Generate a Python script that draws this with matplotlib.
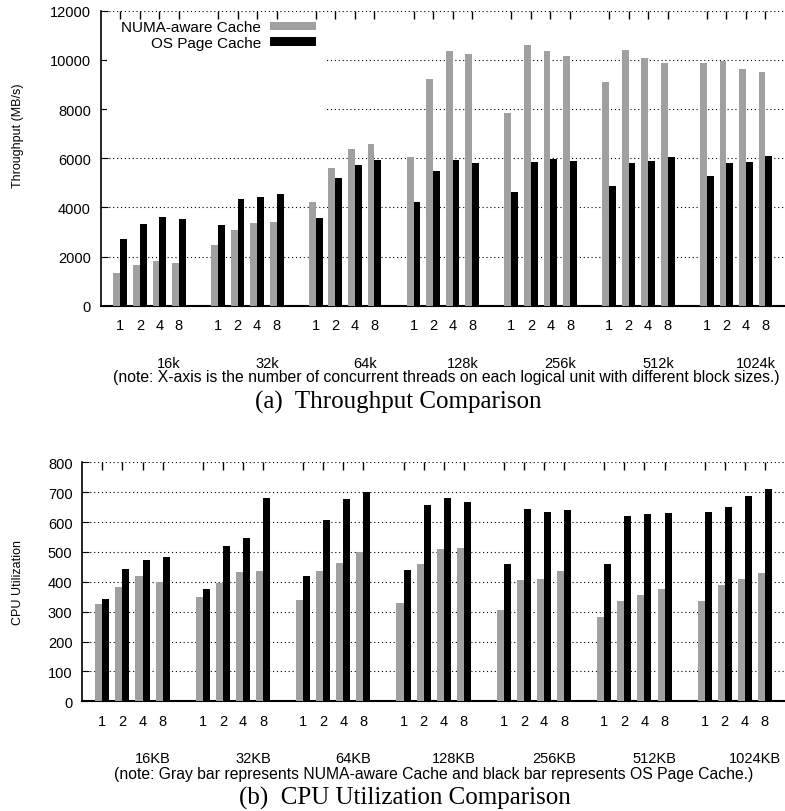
import numpy as np
import matplotlib
matplotlib.use("Agg")
from matplotlib import pyplot as plt
from matplotlib.patches import Rectangle

plt.rcParams['font.family'] = ['Liberation Sans', 'DejaVu Sans']

threads = ['1', '2', '4', '8']
tp_sizes = ['16k', '32k', '64k', '128k', '256k', '512k', '1024k']
cpu_sizes = ['16KB', '32KB', '64KB', '128KB', '256KB', '512KB', '1024KB']

# throughput (MB/s), one row per block size, columns = 1,2,4,8 threads
tp_numa = [[1330, 1670, 1820, 1740],
           [2470, 3080, 3360, 3400],
           [4220, 5600, 6370, 6580],
           [6050, 9220, 10360, 10240],
           [7840, 10600, 10360, 10160],
           [9100, 10400, 10080, 9870],
           [9870, 9950, 9630, 9510]]
tp_os = [[2710, 3320, 3610, 3530],
         [3280, 4340, 4420, 4540],
         [3570, 5190, 5720, 5930],
         [4220, 5480, 5930, 5800],
         [4620, 5850, 5970, 5890],
         [4870, 5800, 5890, 6050],
         [5280, 5800, 5850, 6090]]

# cpu utilization (%)
cpu_numa = [[326, 383, 420, 399],
            [349, 397, 433, 436],
            [339, 436, 463, 500],
            [329, 460, 510, 513],
            [306, 406, 409, 436],
            [282, 336, 356, 376],
            [336, 389, 409, 430]]
cpu_os = [[343, 443, 473, 483],
          [376, 520, 547, 681],
          [420, 607, 677, 701],
          [440, 657, 681, 667],
          [460, 644, 634, 640],
          [460, 620, 627, 630],
          [634, 650, 687, 711]]

GRAY = '#a0a0a0'
BW = 0.35


def draw_panel(ax, numa, os_, sizes, ymax, ystep, ylabel):
    numa = np.array(numa).ravel()
    os_ = np.array(os_).ravel()
    ngrp = len(sizes)
    # 4 bars per group + 1 empty slot
    xs = np.array([g * 5 + j + 1 for g in range(ngrp) for j in range(len(threads))])

    ax.bar(xs - BW / 2, numa, BW, color=GRAY, zorder=3, label='NUMA-aware Cache')
    ax.bar(xs + BW / 2, os_, BW, color='black', zorder=3, label='OS Page Cache')

    ax.set_xlim(0, ngrp * 5)
    ax.set_ylim(0, ymax)
    ax.set_yticks(np.arange(0, ymax + 1, ystep))
    ax.set_xticks(xs)
    ax.set_xticklabels(threads * ngrp)
    ax.tick_params(axis='x', direction='in', length=6, width=1, top=True, pad=9, labelsize=10.5)
    ax.tick_params(axis='y', direction='in', length=5, width=0.8, pad=7, labelsize=10.5)
    ax.yaxis.grid(True, linestyle=(0, (1, 2.5)), color='black', linewidth=0.8, zorder=0)
    ax.set_axisbelow(True)
    for s in ['top', 'right']:
        ax.spines[s].set_visible(False)
    ax.spines['left'].set_linewidth(1.2)
    ax.spines['bottom'].set_linewidth(1.5)

    # block size labels under each group
    for g, name in enumerate(sizes):
        ax.annotate(name, xy=(g * 5 + 3.5, 0), xycoords=('data', 'axes fraction'),
                    xytext=(0, -41), textcoords='offset points',
                    ha='center', va='center', fontsize=10.5)
    ax.set_ylabel(ylabel, fontsize=9)
    return xs


fig = plt.figure(figsize=(7.85, 8.12), dpi=100)

ax1 = fig.add_axes([0.1283, 0.6223, 0.8717, 0.3633])
draw_panel(ax1, tp_numa, tp_os, tp_sizes, 12000, 2000, 'Throughput (MB/s)')
ax1.yaxis.set_label_coords(-0.112, 0.58)
# key background hides the grid behind it
ax1.add_patch(Rectangle((0.009, 0.6), 0.319, 0.37, transform=ax1.transAxes,
                        facecolor='white', edgecolor='none', zorder=1))
leg = ax1.legend(loc='upper right', bbox_to_anchor=(0.315, 0.967), markerfirst=False,
                 frameon=False, handlelength=3.0, handleheight=0.5, handletextpad=0.6,
                 labelspacing=0.1, borderpad=0, borderaxespad=0, fontsize=11)
leg.set_zorder(5)

fig.text(446 / 785, 1 - 377.7 / 812,
         '(note: X-axis is the number of concurrent threads on each logical unit with different block sizes.)',
         ha='center', va='center', fontsize=11.3)
fig.text(398 / 785, 1 - 402 / 812, '(a)  Throughput Comparison', ha='center', va='center',
         fontsize=18, family=['Liberation Serif', 'DejaVu Serif'])

ax2 = fig.add_axes([0.1048, 0.1351, 0.8952, 0.2943])
draw_panel(ax2, cpu_numa, cpu_os, cpu_sizes, 800, 100, 'CPU Utilization')
ax2.yaxis.set_label_coords(-0.083, 0.5)

fig.text(434 / 785, 1 - 775 / 812,
         '(note: Gray bar represents NUMA-aware Cache and black bar represents OS Page Cache.)',
         ha='center', va='center', fontsize=11.3)
fig.text(405 / 785, 1 - 798 / 812, '(b)  CPU Utilization Comparison', ha='center', va='center',
         fontsize=18, family=['Liberation Serif', 'DejaVu Serif'])

fig.savefig('out.png', dpi=100)
